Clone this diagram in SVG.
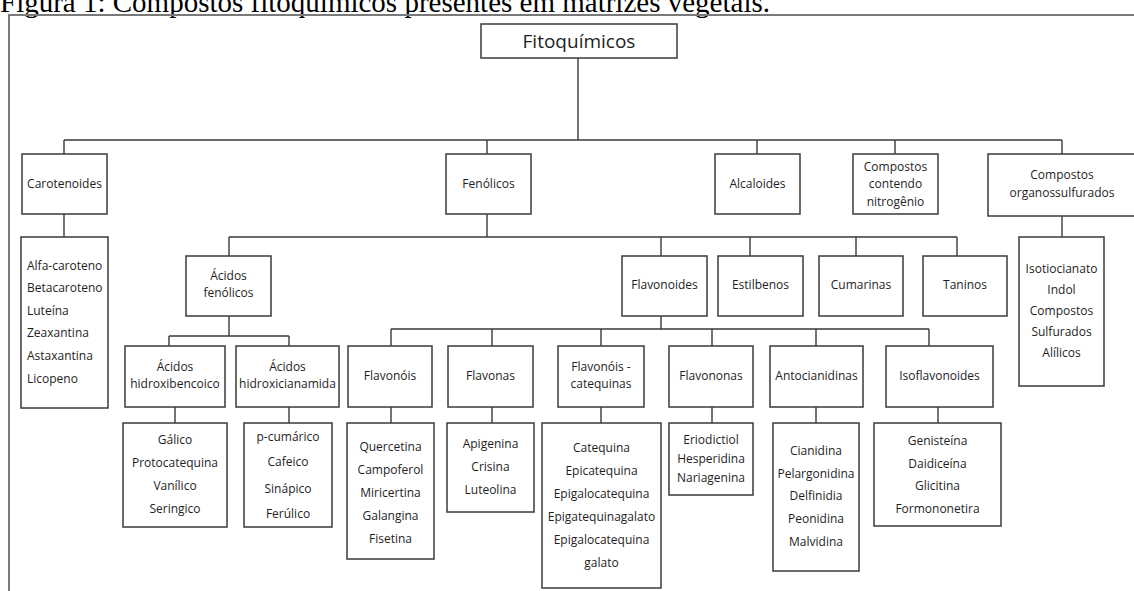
<svg xmlns="http://www.w3.org/2000/svg" width="1134" height="591" viewBox="0 0 1134 591">
<style>
.bx{fill:#fff;stroke:#3a3a3a;stroke-width:1.5}
.t{font-family:'Open Sans','Noto Sans','DejaVu Sans',sans-serif;font-size:12px;fill:#1e1e1e;text-anchor:middle}
.l{text-anchor:start}
.w{fill:none;stroke:#3a3a3a;stroke-width:1.4}
.cap{font-family:'Liberation Serif','Times New Roman',serif;font-size:29px;fill:#000}
</style>
<rect width="1134" height="591" fill="#fff"/>
<text class="cap" x="0" y="12">Figura 1: Compostos fitoquímicos presentes em matrizes vegetais.</text>
<path d="M9 591 V15 H1134" fill="none" stroke="#7a7a7a" stroke-width="2"/>

<g id="connectors" class="w">
<path d="M578 58 V140 M64 140 H1062 M64 140 V154 M487 140 V154 M757 140 V154 M895 140 V154 M1062 140 V154"/>
<path d="M64 214 V237"/>
<path d="M487 214 V237 M229 237 H957 M229 237 V256 M661 237 V256 M750 237 V256 M856 237 V256 M957 237 V256"/>
<path d="M1062 216 V237"/>
<path d="M229 316 V336 M169 336 H289 M169 336 V346 M289 336 V346"/>
<path d="M175 407 V423 M289 407 V423"/>
<path d="M661 316 V329 M391 329 H929 M391 329 V346 M492 329 V346 M601 329 V346 M712 329 V346 M816 329 V346 M929 329 V346"/>
<path d="M391 407 V423 M492 407 V423 M601 407 V423 M712 407 V423 M816 407 V423 M938 407 V423"/>
</g>

<g id="fitoquimicos"><rect class="bx" x="481" y="24" width="196" height="34"/><text class="t" x="579" y="48" style="font-size:19px">Fitoquímicos</text></g>

<g id="carotenoides"><rect class="bx" x="22" y="154" width="85" height="60"/><text class="t" x="64.5" y="188">Carotenoides</text></g>
<g id="fenolicos"><rect class="bx" x="446" y="154" width="85" height="60"/><text class="t" x="488.5" y="188">Fenólicos</text></g>
<g id="alcaloides"><rect class="bx" x="715" y="154" width="85" height="60"/><text class="t" x="757.5" y="188">Alcaloides</text></g>
<g id="nitrogenio"><rect class="bx" x="853" y="154" width="85" height="60"/><text class="t" x="895.5" y="171">Compostos</text><text class="t" x="895.5" y="188">contendo</text><text class="t" x="895.5" y="206">nitrogênio</text></g>
<g id="organossulfurados"><rect class="bx" x="988" y="154" width="148" height="62"/><text class="t" x="1062" y="179">Compostos</text><text class="t" x="1062" y="197">organossulfurados</text></g>

<g id="lista-carotenoides"><rect class="bx" x="21" y="237" width="87" height="171"/>
<text class="t l" x="27" y="270">Alfa-caroteno</text><text class="t l" x="27" y="292">Betacaroteno</text><text class="t l" x="27" y="315">Luteína</text><text class="t l" x="27" y="337">Zeaxantina</text><text class="t l" x="27" y="360">Astaxantina</text><text class="t l" x="27" y="383">Licopeno</text></g>

<g id="lista-organossulfurados"><rect class="bx" x="1019" y="237" width="85" height="149"/>
<text class="t" x="1061.5" y="273">Isotiocianato</text><text class="t" x="1061.5" y="294">Indol</text><text class="t" x="1061.5" y="315">Compostos</text><text class="t" x="1061.5" y="336">Sulfurados</text><text class="t" x="1061.5" y="357">Alílicos</text></g>

<g id="acidos-fenolicos"><rect class="bx" x="186" y="256" width="85" height="60"/><text class="t" x="228.5" y="280">Ácidos</text><text class="t" x="228.5" y="297">fenólicos</text></g>
<g id="flavonoides"><rect class="bx" x="622" y="256" width="85" height="60"/><text class="t" x="664.5" y="289">Flavonoides</text></g>
<g id="estilbenos"><rect class="bx" x="718" y="256" width="85" height="60"/><text class="t" x="760.5" y="289">Estilbenos</text></g>
<g id="cumarinas"><rect class="bx" x="819" y="256" width="84" height="60"/><text class="t" x="861" y="289">Cumarinas</text></g>
<g id="taninos"><rect class="bx" x="923" y="256" width="84" height="60"/><text class="t" x="965" y="289">Taninos</text></g>

<g id="hidroxibencoico"><rect class="bx" x="125" y="346" width="100" height="61"/><text class="t" x="175" y="371">Ácidos</text><text class="t" x="175" y="388">hidroxibencoico</text></g>
<g id="hidroxicianamida"><rect class="bx" x="236" y="346" width="103" height="61"/><text class="t" x="287.5" y="371">Ácidos</text><text class="t" x="287.5" y="388">hidroxicianamida</text></g>
<g id="flavonois"><rect class="bx" x="348" y="346" width="84" height="61"/><text class="t" x="390" y="380">Flavonóis</text></g>
<g id="flavonas"><rect class="bx" x="448" y="346" width="85" height="61"/><text class="t" x="490.5" y="380">Flavonas</text></g>
<g id="flavonois-catequinas"><rect class="bx" x="558" y="346" width="86" height="61"/><text class="t" x="601" y="371">Flavonóis -</text><text class="t" x="601" y="388">catequinas</text></g>
<g id="flavononas"><rect class="bx" x="669" y="346" width="84" height="61"/><text class="t" x="711" y="380">Flavononas</text></g>
<g id="antocianidinas"><rect class="bx" x="770" y="346" width="93" height="61"/><text class="t" x="816.5" y="380">Antocianidinas</text></g>
<g id="isoflavonoides"><rect class="bx" x="886" y="346" width="107" height="61"/><text class="t" x="939.5" y="380">Isoflavonoides</text></g>

<g id="lista-hidroxibencoico"><rect class="bx" x="123" y="423" width="104" height="104"/>
<text class="t" x="175" y="444">Gálico</text><text class="t" x="175" y="467">Protocatequina</text><text class="t" x="175" y="490">Vanílico</text><text class="t" x="175" y="513">Seringico</text></g>
<g id="lista-hidroxicianamida"><rect class="bx" x="244" y="423" width="88" height="104"/>
<text class="t" x="288" y="441">p-cumárico</text><text class="t" x="288" y="466">Cafeico</text><text class="t" x="288" y="493">Sinápico</text><text class="t" x="288" y="518">Ferúlico</text></g>
<g id="lista-flavonois"><rect class="bx" x="347" y="423" width="87" height="136"/>
<text class="t" x="390.5" y="451">Quercetina</text><text class="t" x="390.5" y="474">Campoferol</text><text class="t" x="390.5" y="497">Miricertina</text><text class="t" x="390.5" y="520">Galangina</text><text class="t" x="390.5" y="543">Fisetina</text></g>
<g id="lista-flavonas"><rect class="bx" x="447" y="423" width="87" height="89"/>
<text class="t" x="490.5" y="448">Apigenina</text><text class="t" x="490.5" y="471">Crisina</text><text class="t" x="490.5" y="494">Luteolina</text></g>
<g id="lista-catequinas"><rect class="bx" x="542" y="423" width="119" height="165"/>
<text class="t" x="601.5" y="452">Catequina</text><text class="t" x="601.5" y="475">Epicatequina</text><text class="t" x="601.5" y="498">Epigalocatequina</text><text class="t" x="601.5" y="521">Epigatequinagalato</text><text class="t" x="601.5" y="544">Epigalocatequina</text><text class="t" x="601.5" y="567">galato</text></g>
<g id="lista-flavononas"><rect class="bx" x="669" y="423" width="84" height="72"/>
<text class="t" x="711" y="444">Eriodictiol</text><text class="t" x="711" y="463">Hesperidina</text><text class="t" x="711" y="482">Nariagenina</text></g>
<g id="lista-antocianidinas"><rect class="bx" x="773" y="423" width="86" height="148"/>
<text class="t" x="816" y="455">Cianidina</text><text class="t" x="816" y="478">Pelargonidina</text><text class="t" x="816" y="500">Delfinidia</text><text class="t" x="816" y="523">Peonidina</text><text class="t" x="816" y="546">Malvidina</text></g>
<g id="lista-isoflavonoides"><rect class="bx" x="874" y="423" width="127" height="103"/>
<text class="t" x="937.5" y="445">Genisteína</text><text class="t" x="937.5" y="468">Daidiceína</text><text class="t" x="937.5" y="490">Glicitina</text><text class="t" x="937.5" y="513">Formononetira</text></g>
</svg>
